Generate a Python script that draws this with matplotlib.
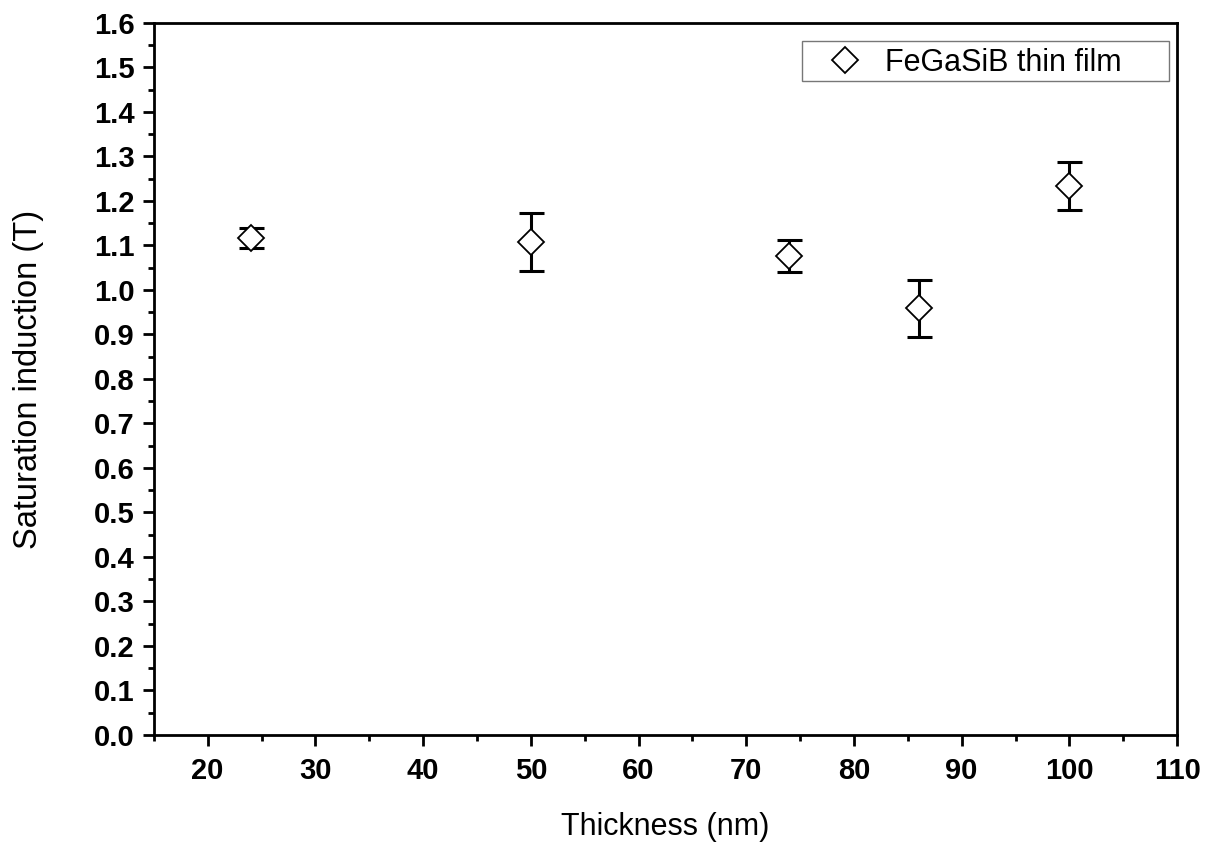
import numpy as np
import matplotlib.pyplot as plt
from matplotlib.patches import Rectangle
from matplotlib.ticker import MultipleLocator

# Saturation induction vs film thickness
thickness = [24, 50, 74, 86, 100]
bs = [1.117, 1.108, 1.076, 0.959, 1.233]
bs_err = [0.023, 0.066, 0.036, 0.064, 0.054]

plt.rcParams['font.family'] = ['Liberation Sans', 'DejaVu Sans']

fig = plt.figure(figsize=(12.11, 8.48), dpi=100)
ax = fig.add_axes([0.127, 0.1333, 0.845, 0.8396])

ax.errorbar(thickness, bs, yerr=bs_err, fmt='none', ecolor='black',
            elinewidth=2.2, capsize=9, capthick=2.2, zorder=2)
ax.plot(thickness, bs, 'D', ms=13, mfc='white', mec='black', mew=1.3,
        label='FeGaSiB thin film', zorder=3)

ax.set_xlim(15, 110)
ax.set_ylim(0, 1.6)
ax.xaxis.set_major_locator(MultipleLocator(10))
ax.xaxis.set_minor_locator(MultipleLocator(5))
ax.yaxis.set_major_locator(MultipleLocator(0.1))
ax.yaxis.set_minor_locator(MultipleLocator(0.05))
ax.set_xticks(np.arange(20, 111, 10))

for s in ax.spines.values():
    s.set_linewidth(2.0)
ax.tick_params(which='major', direction='out', length=8, width=2.0,
               labelsize=21)
ax.tick_params(axis='x', which='major', pad=8)
ax.tick_params(axis='y', which='major', pad=6)
ax.tick_params(which='minor', direction='out', length=4.5, width=2.0)
ax.yaxis.set_major_formatter(plt.FuncFormatter(lambda v, p: '%.1f' % v))
for lab in ax.get_xticklabels() + ax.get_yticklabels():
    lab.set_fontweight('bold')

ax.set_xlabel('Thickness (nm)', fontsize=22, labelpad=19)
ax.set_ylabel('Saturation induction (T)', fontsize=23.5, labelpad=36)

# legend box drawn separately so the padding can be wider than tall
ax.add_patch(Rectangle((0.633, 0.9185), 0.359, 0.0565, transform=ax.transAxes,
                       facecolor='white', edgecolor='#777777', lw=1.0,
                       zorder=4))
leg = ax.legend(loc='center left', fontsize=22, frameon=False,
                borderpad=0, borderaxespad=0, handletextpad=0.5,
                handlelength=1.6, bbox_to_anchor=(0.652, 0.944))
leg.set_zorder(5)

fig.savefig('out.png', dpi=100)
